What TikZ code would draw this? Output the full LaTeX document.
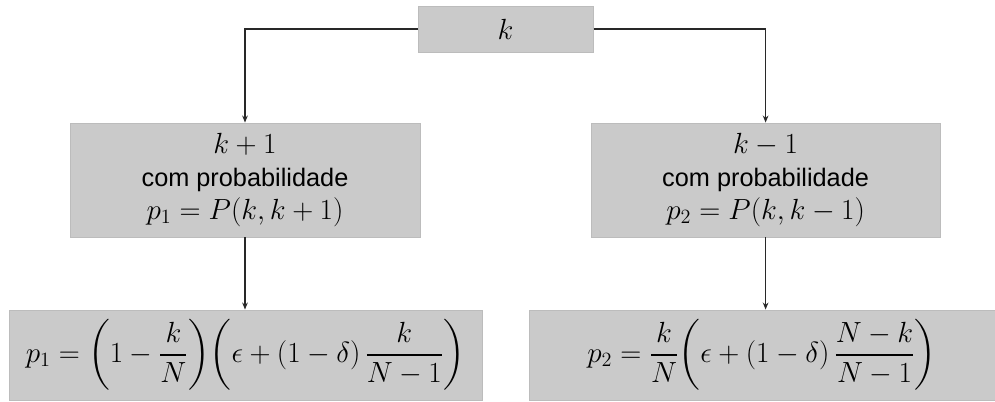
\documentclass[tikz,border=0pt]{standalone}
\usepackage{amsmath,amssymb}
\usepackage{fontspec}
\setsansfont{Liberation Sans}
\usepackage{xcolor}
\usetikzlibrary{arrows.meta}

\definecolor{boxgray}{RGB}{202,202,202}
\definecolor{boxedge}{RGB}{188,188,188}
\definecolor{linegray}{RGB}{40,40,40}

\tikzset{
  statebox/.style={draw=boxedge,fill=boxgray,line width=0.6pt,inner sep=0pt,
    align=center,font=\fontsize{19.5}{23.5}\selectfont},
  flow/.style={-{Stealth[length=5pt,width=4pt]},linegray,line width=0.8pt}
}

\begin{document}
\begin{tikzpicture}
  \useasboundingbox (0,0) rectangle (24.875,-10.05);
  % --- top: current state
  \node[statebox,minimum width=4.375cm,minimum height=1.15cm] (top) at (12.64,-0.725) {$k$};
  % --- middle: the two moves
  \node[statebox,minimum width=8.75cm,minimum height=2.85cm] (midL) at (6.125,-4.5)
    {$k+1$\\ {\fontsize{18}{23.5}\sffamily com probabilidade}\\ $p_1=P(k,k+1)$};
  \node[statebox,minimum width=8.73cm,minimum height=2.85cm] (midR) at (19.14,-4.5)
    {$k-1$\\ {\fontsize{18}{23.5}\sffamily com probabilidade}\\ $p_2=P(k,k-1)$};
  % --- bottom: transition probabilities
  \node[statebox,font=\fontsize{21}{24}\selectfont,minimum width=11.83cm,minimum height=2.25cm] (botL) at (6.14,-8.875)
    {$\displaystyle p_1={\left(1-\frac{k}{N}\right)}{\left(\epsilon+(1-\delta)\,\frac{k}{N-1}\right)}$};
  \node[statebox,font=\fontsize{21}{24}\selectfont,minimum width=11.65cm,minimum height=2.25cm] (botR) at (19.05,-8.875)
    {$\displaystyle p_2=\frac{k}{N}{\left(\epsilon+(1-\delta)\,\frac{N-k}{N-1}\right)}$};
  % --- connectors
  \draw[flow] (top.west) -| (midL.north);
  \draw[flow] (top.east) -| (midR.north);
  \draw[flow] (midL.south) -- (midL.south |- botL.north);
  \draw[flow] (midR.south) -- (midR.south |- botR.north);
\end{tikzpicture}
\end{document}
